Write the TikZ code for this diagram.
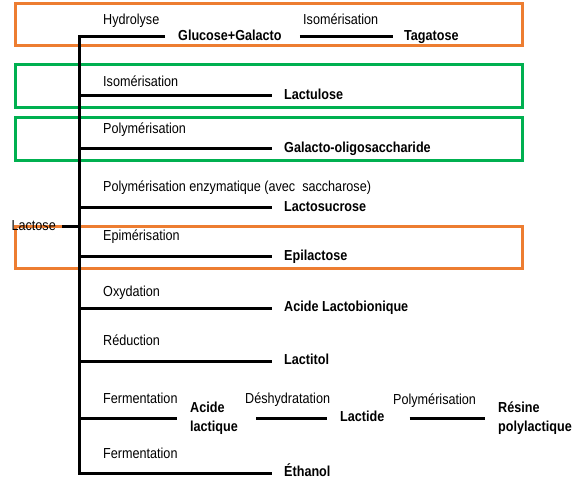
\documentclass[tikz,border=0pt]{standalone}
\usepackage{fontspec}
\setmainfont{Liberation Sans}[FakeStretch=0.87]
\usetikzlibrary{positioning}
\definecolor{boxorange}{RGB}{237,125,49}
\definecolor{boxgreen}{RGB}{0,176,80}
\tikzset{
  proc/.style={anchor=west, inner sep=0pt, text height=10.5pt, text depth=3pt,
    font=\fontsize{14.5}{16}\selectfont},
  prod/.style={proc, font=\fontsize{14.5}{16}\selectfont\bfseries},
  prodtwo/.style={anchor=west, inner sep=0pt, align=left,
    font=\fontsize{14.5}{19.5}\selectfont\bfseries},
  branch/.style={line width=3pt, shorten >=12pt},
  frame/.style={line width=3pt}
}

\begin{document}
\begin{tikzpicture}[x=1pt,y=-1pt]
\useasboundingbox (0,0) rectangle (573,481);
%%Frames
\draw[frame,boxorange] (15,4) rectangle (522,46);
\draw[frame,boxgreen] (15,65) rectangle (522,108);
\draw[frame,boxgreen] (15,118) rectangle (522,161);
\draw[frame,boxorange] (15,227) rectangle (522,268);

%%Trunk
\coordinate (bot) at (79,473);
\node (lac) at (62,227) [proc, anchor=east, inner xsep=6pt] {Lactose};

%%Process labels
\node (hyd) at (103,21) [proc] {Hydrolyse};
\node (isoa) at (303,21) [proc] {Isomérisation};
\node (isob) at (103,83) [proc] {Isomérisation};
\node (pola) at (103,130) [proc] {Polymérisation};
\node (polb) at (103,188) [proc] {Polymérisation enzymatique (avec\ \ saccharose)};
\node (epi) at (103,237) [proc] {Epimérisation};
\node (oxy) at (103,293) [proc] {Oxydation};
\node (red) at (103,342) [proc] {Réduction};
\node (fera) at (103,400) [proc] {Fermentation};
\node (desh) at (245,400) [proc] {Déshydratation};
\node (polc) at (393,401) [proc] {Polymérisation};
\node (ferb) at (103,455) [proc] {Fermentation};

%%Products
\node (glu) at (178,37) [prod] {Glucose+Galacto};
\node (tag) at (404,37) [prod] {Tagatose};
\node (lul) at (284,96) [prod] {Lactulose};
\node (gos) at (284,149) [prod] {Galacto-oligosaccharide};
\node (lsu) at (284,208) [prod] {Lactosucrose};
\node (epl) at (284,257) [prod] {Epilactose};
\node (alb) at (284,308) [prod] {Acide Lactobionique};
\node (ltl) at (284,361) [prod] {Lactitol};
\node (acl) at (190,418) [prodtwo] {Acide\\lactique};
\node (lde) at (340,418) [prod] {Lactide};
\node (res) at (498,418) [prodtwo] {Résine\\polylactique};
\node (eth) at (284,473) [prod] {Éthanol};

%%Branches
\draw[branch, shorten <=13pt] (glu.west) -| (bot) -- (eth.west);
\draw[line width=3pt] (lac.east) -- (lac.east -| bot);
\draw[branch, shorten <=18pt, shorten >=11pt] (glu.east) -- (tag.west);
\draw[branch] (lul.west -| bot) -- (lul.west);
\draw[branch] (gos.west -| bot) -- (gos.west);
\draw[branch] (lsu.west -| bot) -- (lsu.west);
\draw[branch] (epl.west -| bot) -- (epl.west);
\draw[branch] (alb.west -| bot) -- (alb.west);
\draw[branch] (ltl.west -| bot) -- (ltl.west);
\draw[branch, shorten >=13pt] (acl.west -| bot) -- (acl.west);
\draw[branch, shorten <=18pt, shorten >=13pt] (acl.east) -- (lde.west);
\draw[branch, shorten <=25pt, shorten >=13pt] (lde.east) -- (res.west);
\end{tikzpicture}
\end{document}
